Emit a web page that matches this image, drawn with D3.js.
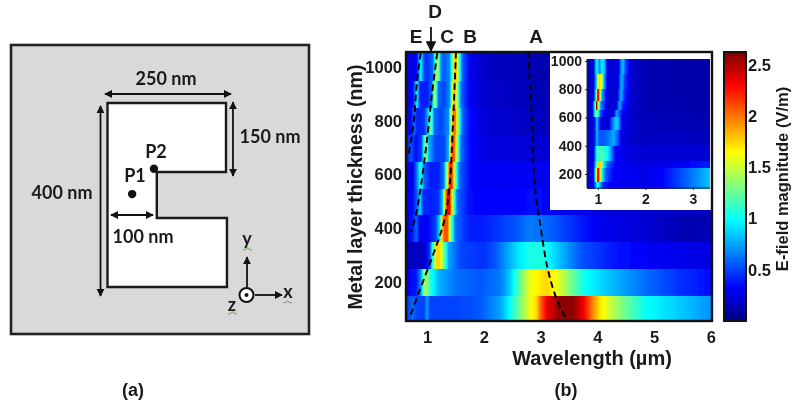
<!DOCTYPE html>
<html>
<head>
<meta charset="utf-8">
<script src="https://cdn.jsdelivr.net/npm/d3@7"></script>
<style>
  html, body { margin: 0; background: #fff; }
  svg { display: block; filter: blur(0.4px); }
  text { font-family: "Liberation Sans", Arial, sans-serif; font-weight: bold; fill: #1a1a1a; }
  .schem text { font-family: Lato, sans-serif; font-size: 18px; }
  .axis path { display: none; }
  .axis line { stroke: #222; }
</style>
</head>
<body>
<script>
// thickness (nm) of each row
const thickness = [100, 200, 300, 400, 500, 600, 700, 800, 900, 1000];

// [wavelength um, E-field V/m] read along each row
const row100 = [[.63,.45],[.75,.6],[.82,.5],[.95,.5],[1,.75],[1.05,.5],[1.5,.5],[1.93,.55],[2.29,.75],[2.46,1],[2.64,1.3],[2.81,1.6],[2.93,1.75],[2.99,2],[3.11,2.35],[3.34,2.6],[3.57,2.6],[3.75,2.35],[3.9,2],[4.05,1.7],[4.28,1.45],[4.57,1.2],[4.87,1],[5.45,.85],[6.02,.7]];
const row200 = [[.63,.3],[.72,.35],[.8,.35],[.9,.75],[.95,1.4],[1,1.35],[1.07,1.05],[1.2,.8],[1.5,.62],[1.93,.55],[2.29,.65],[2.46,.85],[2.64,1.25],[2.81,1.6],[3.11,1.75],[3.34,1.55],[3.57,1.25],[3.8,1],[4.28,.8],[4.87,.6],[5.45,.45],[6.02,.35]];
const row300 = [[.63,.17],[.95,.17],[1.05,.5],[1.1,1.1],[1.16,1.75],[1.22,1.75],[1.28,1.4],[1.38,.75],[1.6,.5],[2,.45],[2.2,.55],[2.58,.9],[2.81,1.05],[3.05,1.05],[3.3,.85],[3.7,.55],[4.3,.38],[5,.3],[6.02,.25]];
const row400 = [[.63,.25],[.75,.4],[.81,.6],[.87,.3],[1,.3],[1.15,.5],[1.22,.9],[1.27,1.8],[1.31,2.1],[1.36,2.1],[1.41,1.4],[1.5,.6],[1.75,.4],[2,.4],[2.58,.55],[2.81,.65],[3.1,.6],[3.4,.5],[4,.3],[5,.2],[5.6,.12],[6.02,.15]];
const row500 = [[.63,.3],[.75,.35],[.83,.6],[.88,.9],[.93,.45],[1.05,.4],[1.2,.45],[1.27,.8],[1.32,1.8],[1.36,2.3],[1.4,2.3],[1.45,1.5],[1.53,.6],[1.75,.35],[2,.33],[3,.35],[3.4,.3],[4,.25],[6.02,.15]];
const row600 = [[.63,.3],[.75,.3],[.83,.7],[.89,1.1],[.95,.6],[1.05,.4],[1.2,.4],[1.3,.65],[1.36,1.6],[1.4,2.2],[1.44,2.2],[1.49,1.4],[1.57,.6],[1.75,.35],[2,.3],[3,.3],[6.02,.2]];
const row700 = [[.63,.35],[.72,.55],[.8,.35],[.9,.5],[.98,1.45],[1.03,.8],[1.15,.5],[1.3,.5],[1.38,.8],[1.41,1.7],[1.45,2.1],[1.48,2.1],[1.52,1.5],[1.6,.6],[1.75,.35],[2,.25],[3,.22],[6.02,.15]];
const row800 = [[.63,.3],[.72,.35],[.77,.6],[.83,.4],[.95,.45],[1.02,.85],[1.07,1.3],[1.13,.6],[1.25,.5],[1.38,.7],[1.43,1.6],[1.47,2],[1.5,2],[1.54,1.4],[1.62,.6],[1.75,.35],[2,.22],[3,.16],[6.02,.13]];
const row900 = [[.63,.3],[.75,.3],[.82,1],[.88,.4],[1,.4],[1.08,.6],[1.14,1.5],[1.2,.6],[1.3,.5],[1.4,.7],[1.45,1.6],[1.49,1.9],[1.53,1.4],[1.6,.6],[1.75,.3],[2,.2],[3,.14],[6.02,.12]];
const row1000 = [[.63,.35],[.72,.25],[.82,.35],[.89,1],[.95,.5],[1,.45],[1.1,.6],[1.18,1.55],[1.25,.65],[1.3,.55],[1.4,.7],[1.47,1.55],[1.51,1.9],[1.55,1.4],[1.62,.6],[1.75,.3],[2,.18],[3,.13],[6.02,.12]];
const mainRows = [row100, row200, row300, row400, row500, row600, row700, row800, row900, row1000];

// inset bands: thickness range (nm) and [wavelength, value] along each band
const insetBands = [
  [1014, 905, [[.77,.15],[.9,.2],[.96,.9],[.99,.95],[1.03,.65],[1.08,.95],[1.13,.9],[1.2,.25],[1.42,.2],[1.49,.7],[1.53,.85],[1.58,.5],[1.7,.2],[2,.13],[3.36,.1]]],
  [905, 805, [[.77,.15],[.9,.2],[.97,.9],[1,1.6],[1.03,1.75],[1.08,1.6],[1.12,.9],[1.2,.25],[1.42,.2],[1.47,.65],[1.51,.8],[1.56,.5],[1.7,.2],[2,.13],[3.36,.1]]],
  [805, 720, [[.77,.15],[.9,.2],[.96,1],[1,2.6],[1.04,1.7],[1.08,.8],[1.2,.22],[1.4,.2],[1.46,.65],[1.5,.8],[1.55,.45],[1.7,.2],[2,.13],[3.36,.1]]],
  [720, 650, [[.77,.15],[.88,.2],[.93,1],[.97,2.5],[1.01,1.5],[1.06,.7],[1.2,.22],[1.38,.2],[1.43,.6],[1.47,.75],[1.52,.4],[1.7,.2],[2,.13],[3.36,.11]]],
  [650, 600, [[.77,.16],[.88,.2],[.93,.9],[.96,1.45],[1,1.1],[1.06,.5],[1.2,.22],[1.33,.25],[1.39,.75],[1.44,.6],[1.52,.3],[1.7,.2],[2,.14],[3.36,.12]]],
  [600, 510, [[.77,.18],[.9,.2],[.95,.55],[.98,.9],[1.02,.5],[1.08,.22],[1.22,.22],[1.3,.6],[1.38,.9],[1.44,.75],[1.5,.3],[1.7,.2],[2,.15],[3.36,.13]]],
  [510, 400, [[.77,.18],[.9,.2],[.95,.55],[.98,.85],[1.02,.55],[1.1,.55],[1.2,.6],[1.33,.78],[1.42,.55],[1.5,.25],[1.7,.2],[2,.17],[3.36,.16]]],
  [400, 290, [[.77,.18],[.9,.22],[.95,.75],[.98,1.15],[1.1,1.15],[1.2,1],[1.28,.7],[1.36,.35],[1.6,.25],[2,.22],[2.6,.22],[3.36,.22]]],
  [290, 245, [[.77,.2],[.9,.25],[.96,1],[1.01,1.75],[1.06,1.75],[1.12,1],[1.2,.6],[1.35,.35],[1.6,.27],[2,.25],[2.6,.3],[3.36,.4]]],
  [245, 145, [[.77,.2],[.9,.25],[.95,1.1],[.98,1.9],[1,2.55],[1.03,1.9],[1.08,1.1],[1.15,.6],[1.3,.35],[1.6,.3],[2,.27],[2.4,.35],[2.8,.55],[3.1,.7],[3.36,.85]]],
  [145, 100, [[.77,.2],[.9,.25],[.96,.8],[1,1.15],[1.04,.8],[1.12,.4],[1.3,.3],[1.6,.28],[2,.27],[2.4,.35],[2.8,.55],[3.1,.7],[3.36,.85]]]
];

// dashed resonance curves, [wavelength, thickness]
const curveA = [[2.78,1056],[2.85,803],[2.9,553],[2.99,420],[3.13,245],[3.29,133],[3.46,59]];
const curveB = [[1.51,1056],[1.46,803],[1.39,542],[1.3,425],[1.18,345],[1.02,252],[.86,163],[.71,77]];
const curveC = [[1.18,1052],[1.09,904],[1,729],[.89,555],[.81,455],[.72,387]];
const curveE = [[.89,1052],[.82,940],[.77,803],[.67,665]];

const wavelengthTicks = [1, 2, 3, 4, 5, 6];
const thicknessTicks = [200, 400, 600, 800, 1000];
const insetXTicks = [1, 2, 3];
const insetYTicks = [200, 400, 600, 800, 1000];
const colorTicks = [0.5, 1, 1.5, 2, 2.5];

// antenna outline in nm, origin at top left
const shapeX = [0, 250, 250, 104, 104, 252, 252, 0];
const shapeY = [0, 0, 150, 150, 250, 250, 400, 400];
const probes = [{name: 'P1', x: 52, y: 198}, {name: 'P2', x: 98, y: 143}];

const jetStops = [0, 0.125, 0.375, 0.625, 0.875, 1];
const jetColors = ['#000080', '#0000ff', '#00ffff', '#ffff00', '#ff0000', '#800000'];
const maxField = 2.63;

const color = d3.scaleLinear().domain(jetStops.map(d => d * maxField)).range(jetColors).clamp(true);

const svg = d3.select('body').append('svg').attr('width', 792).attr('height', 404);
const defs = svg.append('defs');

function addHead(id, size) {
  defs.append('marker')
    .attr('id', id)
    .attr('viewBox', '0 0 10 10')
    .attr('refX', 9).attr('refY', 5)
    .attr('markerWidth', size).attr('markerHeight', size)
    .attr('orient', 'auto-start-reverse')
    .append('path').attr('d', 'M0,0L10,5L0,10Z').attr('fill', '#111');
}
addHead('head', 4.6);
addHead('bigHead', 6);

defs.append('filter')
  .attr('id', 'soft')
  .attr('x', '-2%').attr('y', '-2%').attr('width', '104%').attr('height', '104%')
  .append('feGaussianBlur').attr('stdDeviation', 0.7);

let gradId = 0;
// one horizontal gradient per row, colours go through the jet scale
function rowGradient(points, x) {
  const id = 'g' + (gradId++);
  const [x0, x1] = x.range();
  const stops = [];
  d3.pairs(points).forEach(([a, b]) => {
    d3.range(5).forEach(i => {
      const w = a[0] + (b[0] - a[0]) * i / 5;
      stops.push({o: (x(w) - x0) / (x1 - x0), c: color(a[1] + (b[1] - a[1]) * i / 5)});
    });
  });
  const last = points[points.length - 1];
  stops.push({o: (x(last[0]) - x0) / (x1 - x0), c: color(last[1])});
  defs.append('linearGradient')
    .attr('id', id)
    .attr('gradientUnits', 'userSpaceOnUse')
    .attr('x1', x0).attr('x2', x1).attr('y1', 0).attr('y2', 0)
    .selectAll('stop').data(stops).join('stop')
    .attr('offset', d => d.o)
    .attr('stop-color', d => d.c);
  return `url(#${id})`;
}

// ---- panel (a)
const schem = svg.append('g').attr('class', 'schem');
schem.append('rect')
  .attr('x', 11).attr('y', 45).attr('width', 298).attr('height', 289)
  .attr('fill', '#d9d9d9').attr('stroke', '#222').attr('stroke-width', 2.6);

const nmX = d3.scaleLinear().domain([0, 250]).range([107.5, 226]);
const nmY = d3.scaleLinear().domain([0, 400]).range([103, 287]);

schem.append('path')
  .attr('d', d3.line()(shapeX.map((d, i) => [nmX(d), nmY(shapeY[i])])) + 'Z')
  .attr('fill', '#fff').attr('stroke', '#1a1a1a').attr('stroke-width', 2.4);

schem.selectAll('circle.probe').data(probes).join('circle')
  .attr('class', 'probe')
  .attr('cx', d => nmX(d.x)).attr('cy', d => nmY(d.y)).attr('r', 4.2).attr('fill', '#111');

const schemArrows = [
  {x1: 105, y1: 94, x2: 231, y2: 94, both: true},
  {x1: 233, y1: 102, x2: 233, y2: 176, both: true},
  {x1: 100.5, y1: 106, x2: 100.5, y2: 296, both: true},
  {x1: 111, y1: 215, x2: 153, y2: 215, both: true},
  {x1: 247, y1: 287, x2: 247, y2: 257},
  {x1: 255, y1: 295, x2: 282, y2: 295}
];
schem.selectAll('line.dim').data(schemArrows).join('line')
  .attr('class', 'dim')
  .attr('x1', d => d.x1).attr('y1', d => d.y1).attr('x2', d => d.x2).attr('y2', d => d.y2)
  .attr('stroke', '#111').attr('stroke-width', 1.8)
  .attr('marker-end', 'url(#head)')
  .attr('marker-start', d => d.both ? 'url(#head)' : null);

schem.append('circle').attr('cx', 246.5).attr('cy', 295).attr('r', 7)
  .attr('fill', '#fff').attr('stroke', '#111').attr('stroke-width', 2);
schem.append('circle').attr('cx', 246.5).attr('cy', 295).attr('r', 2).attr('fill', '#111');

const schemLabels = [
  {t: '250 nm', x: 166, y: 85},
  {t: '150 nm', x: 270, y: 143},
  {t: '400 nm', x: 62, y: 199},
  {t: '100 nm', x: 143, y: 243},
  {t: 'P1', x: 135, y: 182},
  {t: 'P2', x: 156, y: 158},
  {t: 'y', x: 247, y: 245},
  {t: 'x', x: 288, y: 298},
  {t: 'z', x: 232, y: 311}
];
schem.selectAll('text.lab').data(schemLabels).join('text')
  .attr('class', 'lab')
  .attr('x', d => d.x).attr('y', d => d.y)
  .attr('text-anchor', 'middle')
  .text(d => d.t);

// green spell-check squiggles under the axis letters
const squiggles = [[243, 249], [283, 302], [228, 313]];
schem.selectAll('path.squig').data(squiggles).join('path')
  .attr('class', 'squig')
  .attr('d', d => `M${d[0]},${d[1]}q1.5,2 3,0t3,0t3,0`)
  .attr('fill', 'none').attr('stroke', '#5a9a3a').attr('stroke-width', 0.9);

svg.append('text').attr('x', 133).attr('y', 396).attr('text-anchor', 'middle').attr('font-size', 18).text('(a)');
svg.append('text').attr('x', 566).attr('y', 396).attr('text-anchor', 'middle').attr('font-size', 18).text('(b)');

// ---- panel (b) main map
const x = d3.scaleLinear().domain([.63, 6.02]).range([406, 712]);
const y = d3.scaleLinear().domain([55, 1056]).range([321, 52]);

const main = svg.append('g');
main.append('g').attr('filter', 'url(#soft)')
  .selectAll('rect.row').data(thickness).join('rect')
  .attr('class', 'row')
  .attr('shape-rendering', 'crispEdges')
  .attr('x', x.range()[0])
  .attr('width', x.range()[1] - x.range()[0])
  .attr('y', d => y(d === 1000 ? 1056 : d + 50))
  .attr('height', d => y(d === 100 ? 55 : d - 50) - y(d === 1000 ? 1056 : d + 50) + 0.6)
  .attr('fill', (d, i) => rowGradient(mainRows[i], x));

const curveLine = d3.line().x(d => x(d[0])).y(d => y(d[1])).curve(d3.curveCatmullRom);
main.selectAll('path.res').data([curveA, curveB, curveC, curveE]).join('path')
  .attr('class', 'res')
  .attr('d', curveLine)
  .attr('fill', 'none').attr('stroke', '#000').attr('stroke-width', 1.9)
  .attr('stroke-dasharray', '6.5 4');

// inset
svg.append('rect').attr('x', 550).attr('y', 52).attr('width', 162).attr('height', 158).attr('fill', '#fff');
const ix = d3.scaleLinear().domain([.77, 3.36]).range([587, 710]);
const iy = d3.scaleLinear().domain([101, 1014]).range([188, 59]);
svg.append('g').attr('filter', 'url(#soft)')
  .selectAll('rect').data(insetBands).join('rect')
  .attr('shape-rendering', 'crispEdges')
  .attr('x', ix.range()[0])
  .attr('width', ix.range()[1] - ix.range()[0])
  .attr('y', d => iy(d[0]))
  .attr('height', d => iy(d[1]) - iy(d[0]) + 0.6)
  .attr('fill', d => rowGradient(d[2], ix));

const insetBottom = svg.append('g').attr('class', 'axis').attr('transform', 'translate(0,188)')
  .call(d3.axisBottom(ix).tickValues(insetXTicks).tickSize(2).tickPadding(4).tickFormat(d3.format('d')));
const insetLeft = svg.append('g').attr('class', 'axis').attr('transform', 'translate(587,0)')
  .call(d3.axisLeft(iy).tickValues(insetYTicks).tickSize(2).tickPadding(3).tickFormat(d3.format('d')));
[insetBottom, insetLeft].forEach(g => g.selectAll('text').attr('font-size', 14).attr('font-family', null));
svg.append('line').attr('x1', 587).attr('x2', 587).attr('y1', 59).attr('y2', 188).attr('stroke', '#223').attr('stroke-width', 1);
svg.append('line').attr('x1', 587).attr('x2', 710).attr('y1', 188).attr('y2', 188).attr('stroke', '#223').attr('stroke-width', 1);

// frame and axes of main map
svg.append('rect')
  .attr('x', 406).attr('y', 52).attr('width', 306).attr('height', 269)
  .attr('fill', 'none').attr('stroke', '#111').attr('stroke-width', 2.4);

const xAxis = svg.append('g').attr('class', 'axis').attr('transform', 'translate(0,321)')
  .call(d3.axisBottom(x).tickValues(wavelengthTicks).tickSize(0).tickPadding(10).tickFormat(d3.format('d')));
const yAxis = svg.append('g').attr('class', 'axis').attr('transform', 'translate(406,0)')
  .call(d3.axisLeft(y).tickValues(thicknessTicks).tickSize(0).tickPadding(4).tickFormat(d3.format('d')));
[xAxis, yAxis].forEach(g => g.selectAll('text').attr('font-size', 16.5).attr('font-family', null));

svg.append('text').attr('x', 592).attr('y', 365).attr('text-anchor', 'middle').attr('font-size', 20).text('Wavelength (µm)');
svg.append('text').attr('transform', 'translate(362,187) rotate(-90)').attr('text-anchor', 'middle').attr('font-size', 19.6).text('Metal layer thickness (nm)');

// curve labels
const curveLabels = [
  {t: 'E', x: 416, y: 43},
  {t: 'D', x: 435, y: 18},
  {t: 'C', x: 447, y: 43},
  {t: 'B', x: 470, y: 43},
  {t: 'A', x: 536, y: 43}
];
svg.selectAll('text.curve').data(curveLabels).join('text')
  .attr('class', 'curve')
  .attr('x', d => d.x).attr('y', d => d.y)
  .attr('text-anchor', 'middle').attr('font-size', 19)
  .text(d => d.t);
svg.append('line').attr('x1', 431).attr('x2', 431).attr('y1', 27).attr('y2', 51)
  .attr('stroke', '#111').attr('stroke-width', 1.8).attr('marker-end', 'url(#bigHead)');

// colour bar
const cy = d3.scaleLinear().domain([0, maxField]).range([321, 52]);
const barGrad = defs.append('linearGradient').attr('id', 'bar')
  .attr('x1', 0).attr('x2', 0).attr('y1', 1).attr('y2', 0);
barGrad.selectAll('stop').data(jetStops).join('stop')
  .attr('offset', d => d).attr('stop-color', (d, i) => jetColors[i]);
svg.append('rect')
  .attr('x', 724).attr('y', 52).attr('width', 22).attr('height', 269)
  .attr('fill', 'url(#bar)').attr('stroke', '#111').attr('stroke-width', 2);
const colorAxis = svg.append('g').attr('class', 'axis').attr('transform', 'translate(746,0)')
  .call(d3.axisRight(cy).tickValues(colorTicks).tickSize(0).tickPadding(2).tickFormat(d3.format('')));
colorAxis.selectAll('text').attr('font-size', 16.5).attr('font-family', null);

svg.append('text').attr('transform', 'translate(788,179) rotate(-90)').attr('text-anchor', 'middle').attr('font-size', 16.5).text('E-field magnitude (V/m)');
</script>
</body>
</html>
